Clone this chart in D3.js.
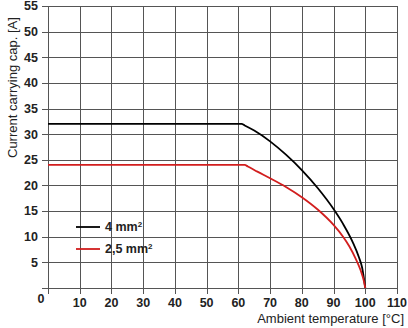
<!DOCTYPE html>
<html><head><meta charset="utf-8">
<script src="https://cdn.jsdelivr.net/npm/d3@7"></script>
<style>body{margin:0;background:#fff}svg{display:block}text{font-family:"Liberation Sans",Arial,sans-serif}</style>
</head><body>
<svg id="c" width="408" height="328"></svg>
<script>
const xTicks = [10,20,30,40,50,60,70,80,90,100,110];
const yTicks = [5,10,15,20,25,30,35,40,45,50,55];
const series4 = [[0,32],[61,32],[62,31.7],[65,30.7],[70,28.6],[75,26.0],[80,23.0],[85,19.5],[90,15.4],[93,12.5],[96,9],[98,6],[99,4],[100,0]];
const series25 = [[0,24],[62,24],[63,23.7],[66,22.7],[70,21.4],[75,19.7],[80,17.7],[85,15.3],[90,12.3],[93,10.0],[95,8.1],[97,5.7],[98.5,3.5],[99.5,1.5],[100,0]];
const legendLabels = ["4 mm", "2,5 mm"];
const colors = ["#000000", "#d21e1e"];

const svg = d3.select("#c");
const x = d3.scaleLinear().domain([0,110]).range([48,397]);
const y = d3.scaleLinear().domain([0,55]).range([288,6]);
const gridColor = "#555";

// horizontal grid
svg.append("g").selectAll("line").data([0].concat(yTicks)).join("line")
  .attr("x1", 42).attr("x2", x(110))
  .attr("y1", d => Math.round(y(d))+0.5).attr("y2", d => Math.round(y(d))+0.5)
  .attr("stroke", gridColor).attr("stroke-width", 1);
// vertical grid
svg.append("g").selectAll("line").data([0].concat(xTicks)).join("line")
  .attr("x1", d => Math.round(x(d))+0.5).attr("x2", d => Math.round(x(d))+0.5)
  .attr("y1", y(55)).attr("y2", 294)
  .attr("stroke", gridColor).attr("stroke-width", 1);

// y labels
svg.append("g").selectAll("text").data(yTicks).join("text")
  .attr("x", 38).attr("y", d => y(d)).attr("dy", "0.35em")
  .attr("text-anchor", "end").attr("font-size", 12.5).attr("font-weight", "bold").attr("fill", "#222")
  .text(d => d);
svg.append("text").attr("x", 41).attr("y", 299).attr("dy", "0.35em")
  .attr("text-anchor", "middle").attr("font-size", 12.5).attr("font-weight", "bold").attr("fill", "#222").text("0");
// x labels
svg.append("g").selectAll("text").data(xTicks).join("text")
  .attr("x", d => x(d)).attr("y", 303).attr("dy", "0.35em")
  .attr("text-anchor", "middle").attr("font-size", 12.5).attr("font-weight", "bold").attr("fill", "#222")
  .text(d => d);

// axis titles
svg.append("text").attr("x", 404).attr("y", 323)
  .attr("text-anchor", "end").attr("font-size", 13).attr("fill", "#222")
  .text("Ambient temperature [°C]");
svg.append("text").attr("transform", "translate(17,158) rotate(-90)")
  .attr("text-anchor", "start").attr("font-size", 13).attr("fill", "#222")
  .text("Current carrying cap. [A]");

// curves
const line = d3.line().x(d => x(d[0])).y(d => y(d[1])).curve(d3.curveMonotoneX);
[series4, series25].forEach((s, i) => {
  svg.append("path").datum(s).attr("d", line)
    .attr("fill", "none").attr("stroke", colors[i]).attr("stroke-width", 1.8);
});

// legend
const ly = [227, 249];
legendLabels.forEach((lab, i) => {
  svg.append("line").attr("x1", 76).attr("x2", 100).attr("y1", ly[i]).attr("y2", ly[i])
    .attr("stroke", colors[i]).attr("stroke-width", 1.8);
  const t = svg.append("text").attr("x", 105).attr("y", ly[i]).attr("dy", "0.35em")
    .attr("font-size", 12.5).attr("font-weight", "bold").attr("fill", "#222");
  t.append("tspan").text(lab);
  t.append("tspan").attr("dy", "-0.5em").attr("font-size", 8).text("2");
});
</script>
</body></html>
